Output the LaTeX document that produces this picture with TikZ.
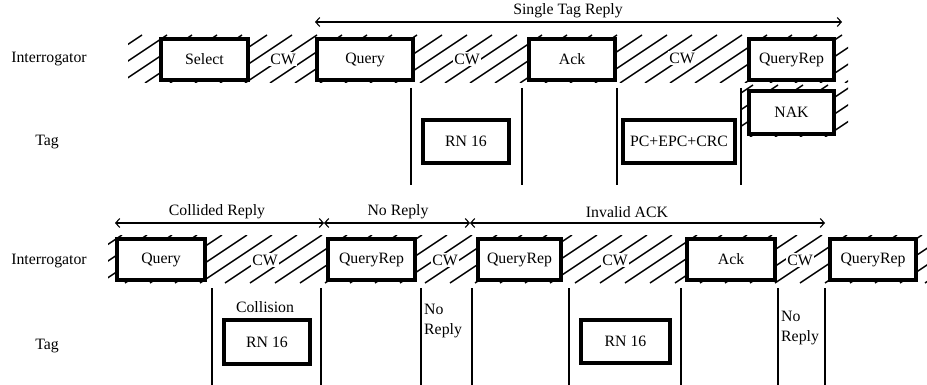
\documentclass[tikz,border=0pt]{standalone}
\usepackage{fontspec}
\setmainfont{Liberation Serif}
\usetikzlibrary{arrows.meta}
\begin{document}
\begin{tikzpicture}[x=1pt,y=-1pt,
  every node/.style={font=\fontsize{15.8}{20}\selectfont},
  box/.style={draw,line width=4pt,fill=white,minimum height=41pt,inner sep=0pt},
  hatch/.style={line width=1.5pt},
  tick/.style={line width=1.1pt},
  cw/.style={fill=white,inner sep=1.5pt},
  span/.style={line width=1.1pt,{Straight Barb[length=4pt,width=9pt]}-{Straight Barb[length=4pt,width=9pt]}},
  lbl/.style={inner sep=0pt}]
\useasboundingbox (0,0) rectangle (927,385);

% ---------- hatching (top) ----------
\begin{scope}
  \clip (128,35) rectangle (848,83);
  \foreach \x in {20,45,...,900} \draw[hatch] (\x,83) -- (\x+72,35);
\end{scope}
\begin{scope}
  \clip (741,85) rectangle (848,137);
  \foreach \x in {600,625,...,900} \draw[hatch] (\x,137) -- (\x+78,85);
\end{scope}
% ---------- hatching (bottom) ----------
\begin{scope}
  \clip (108,235) rectangle (927,283);
  \foreach \x in {0,25,...,990} \draw[hatch] (\x,283) -- (\x+72,235);
\end{scope}

% ---------- row labels ----------
\node (i1) at (49,59) {Interrogator};
\node (t1) at (47,142) {Tag};
\node (i2) at (49,261) {Interrogator};
\node (t2) at (47,346) {Tag};

% ---------- top vertical ticks ----------
\foreach \x in {411,522,617,741} \draw[tick] (\x,88) -- (\x,185);

% ---------- top boxes ----------
\node[box,minimum width=87pt] (sel) at (204.5,59.5) {Select};
\node[box,minimum width=96pt] (q1) at (365,59.5) {Query};
\node[box,minimum width=86pt] (ack1) at (572,59.5) {Ack};
\node[box,minimum width=85pt] (qr1) at (791.5,59.5) {QueryRep};
\node[box,minimum width=85pt,minimum height=43pt] (nak) at (791.5,112.5) {NAK};
\node[box,minimum width=86pt,minimum height=43pt] (rn1) at (466,141.5) {RN 16};
\node[box,minimum width=112pt,minimum height=43pt] (pc) at (679,141.5) {PC+EPC+CRC};

\node[cw] (cw1) at (283,59) {CW};
\node[cw] (cw2) at (467,59) {CW};
\node[cw] (cw3) at (682,58) {CW};

% ---------- top span arrow ----------
\coordinate (s1) at (315,22);
\coordinate (s2) at (842,22);
\draw[span] (s1) -- (s2);
\node[lbl] (st) at (568,11) {Single Tag Reply};

% ---------- bottom vertical ticks ----------
\foreach \x in {212,321,421,472,569,681,778,825} \draw[tick] (\x,288) -- (\x,385);

% ---------- bottom boxes ----------
\node[box,minimum width=88pt] (q2) at (161,259.5) {Query};
\node[box,minimum width=87pt] (qr2) at (371.5,259.5) {QueryRep};
\node[box,minimum width=83pt] (qr3) at (519.5,259.5) {QueryRep};
\node[box,minimum width=88pt] (ack2) at (731,259.5) {Ack};
\node[box,minimum width=86pt] (qr4) at (873,259.5) {QueryRep};
\node[box,minimum width=86pt,minimum height=44pt] (rn2) at (267,342) {RN 16};
\node[box,minimum width=89pt,minimum height=43pt] (rn3) at (625.5,341.5) {RN 16};

\node[cw] (cw4) at (265,260) {CW};
\node[cw] (cw5) at (445,260) {CW};
\node[cw] (cw6) at (615,260) {CW};
\node[cw] (cw7) at (800,260) {CW};

\node (col) at (265,307) {Collision};
\node[anchor=west,inner sep=0pt,align=left] (nr1) at (424,321) {No\\Reply};
\node[anchor=west,inner sep=0pt,align=left] (nr2) at (781,328) {No\\Reply};

% ---------- bottom span arrows ----------
\coordinate (b1) at (115,223);
\coordinate (b2) at (324,223);
\coordinate (b3) at (470,223);
\coordinate (b4) at (825,223);
\draw[span] (b1) -- (b2);
\draw[span] (b2) -- (b3);
\draw[span] (b3) -- (b4);
\node[lbl] (cr) at (217,212) {Collided Reply};
\node[lbl] (nr) at (398,212) {No Reply};
\node[lbl] (ia) at (627,212) {Invalid ACK};
\end{tikzpicture}
\end{document}
